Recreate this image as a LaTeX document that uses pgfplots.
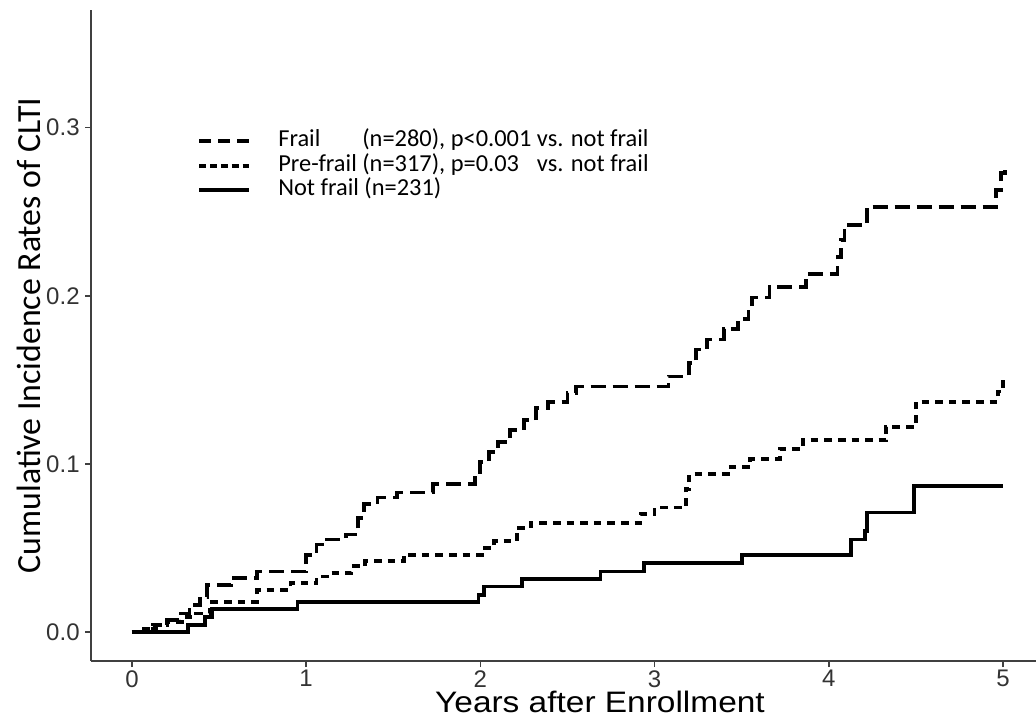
\documentclass[border=0pt]{standalone}
\usepackage{pgfplots}
\pgfplotsset{compat=1.18}
\usepackage{fontspec}
\setmainfont{Liberation Sans}
\newfontfamily\carlito{Carlito}
\begin{document}
\begin{tikzpicture}
\begin{axis}[
  at={(0,0)}, anchor=south west,
  scale only axis, width=472.5pt, height=325.5pt,
  xmin=-0.235, xmax=5.19, ymin=-0.0173, ymax=0.370,
  axis x line=bottom, axis y line=left,
  axis line style={black!75, line width=0.8pt, -},
  tick style={black!75, line width=0.8pt},
  tick align=outside, major tick length=3pt,
  xtick={0,1,2,3,4,5}, ytick={0,0.1,0.2,0.3},
  yticklabels={0.0,0.1,0.2,0.3},
  /pgf/number format/assume math mode=true,
  ticklabel style={font=\fontsize{12}{14}\selectfont, text=black!80},
  xticklabel style={inner sep=1.5pt, text depth=0pt},
  yticklabel style={inner sep=2.5pt},
  xlabel={\scalebox{1.13}[1]{Years after Enrollment}},
  ylabel={\carlito Cumulative Incidence Rates of CLTI},
  xlabel style={at={(axis description cs:0.5386,-0.0795)}, anchor=base, inner sep=0pt, font=\fontsize{14.8}{17}\selectfont},
  ylabel style={at={(axis description cs:-0.0655,0.5)}, anchor=center, inner sep=0pt, font=\fontsize{16.9}{19}\selectfont},
  legend style={at={(axis cs:0.373,0.2995)}, anchor=north west, draw=none, fill=none,
    font=\carlito\fontsize{12.2}{14}\selectfont, inner sep=0pt, row sep=0pt,
    nodes={inner sep=0pt, text height=9pt, text depth=3.25pt, anchor=west},
    /tikz/every odd column/.append style={column sep=13.5pt}},
  legend cell align=left,
  legend image code/.code={\draw[#1] (0pt,0pt) -- (25pt,0pt);},
]
\addlegendimage{black, line width=2pt, dash pattern=on 6pt off 3.5pt}
\addlegendentry{\makebox[0pt][l]{Frail}\phantom{Pre-frail} (n=280), p<0.001 vs. not frail}
\addlegendimage{black, line width=2pt, dash pattern=on 3.4pt off 2pt}
\addlegendentry{Pre-frail (n=317), \makebox[0pt][l]{p=0.03}\phantom{p<0.001} vs. not frail}
\addlegendimage{black, line width=2pt}
\addlegendentry{Not frail (n=231)}

% Frail
\addplot[forget plot, const plot, black, line width=1.9pt, dash pattern=on 7.5pt off 3.5pt] coordinates {
(0,0) (0.08,0.002) (0.14,0.004) (0.2,0.007) (0.27,0.011) (0.33,0.016) (0.39,0.021)
(0.43,0.028) (0.57,0.032) (0.72,0.036) (1.0,0.046) (1.06,0.052) (1.09,0.055)
(1.23,0.058) (1.30,0.068) (1.33,0.076) (1.41,0.080) (1.52,0.083) (1.73,0.088)
(1.97,0.095) (2.0,0.101) (2.05,0.107) (2.1,0.113) (2.17,0.120) (2.25,0.126)
(2.32,0.133) (2.39,0.137) (2.5,0.142) (2.55,0.146) (3.08,0.152) (3.2,0.160)
(3.24,0.168) (3.3,0.174) (3.4,0.180) (3.48,0.186) (3.54,0.193) (3.56,0.199)
(3.66,0.205) (3.87,0.213) (4.05,0.223) (4.07,0.233) (4.09,0.242) (4.22,0.253)
(4.96,0.263) (4.99,0.273) (5.01,0.279)
};
% Pre-frail
\addplot[forget plot, const plot, black, line width=1.9pt, dash pattern=on 3.8pt off 3pt] coordinates {
(0,0) (0.05,0.002) (0.12,0.004) (0.2,0.006) (0.3,0.009) (0.37,0.011) (0.45,0.018)
(0.72,0.025) (0.91,0.029) (1.06,0.033) (1.12,0.035) (1.26,0.039) (1.34,0.042)
(1.56,0.046) (2.01,0.050) (2.08,0.054) (2.21,0.062) (2.29,0.065) (2.92,0.070)
(3.0,0.074) (3.18,0.085) (3.2,0.094) (3.42,0.098) (3.55,0.103) (3.72,0.109)
(3.85,0.114) (4.33,0.122) (4.5,0.137) (4.97,0.143) (5.0,0.150)
};
% Not frail
\addplot[forget plot, const plot, black, line width=1.9pt] coordinates {
(0,0) (0.32,0.004) (0.42,0.009) (0.46,0.0135) (0.95,0.018) (1.99,0.022)
(2.02,0.027) (2.24,0.0315) (2.69,0.036) (2.94,0.041) (3.50,0.046) (4.13,0.055)
(4.21,0.060) (4.22,0.071) (4.49,0.087) (5.0,0.087)
};
\end{axis}
\pgfresetboundingbox
\path[use as bounding box] (-45.5pt,-28pt) rectangle (472.5pt,330.5pt);
\end{tikzpicture}
\end{document}
